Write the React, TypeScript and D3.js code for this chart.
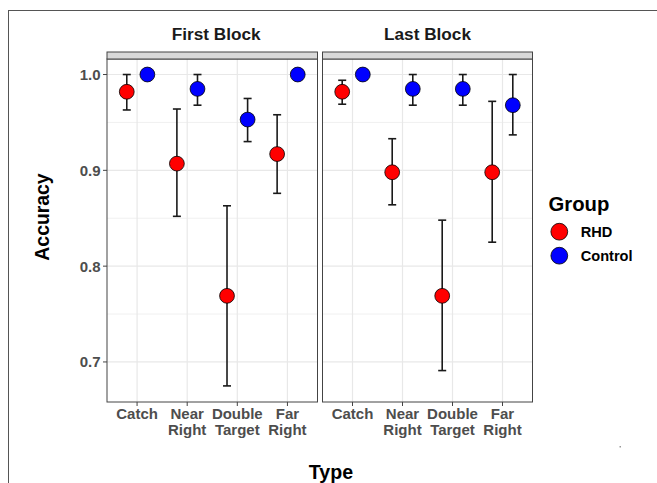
import * as d3 from "d3";

const categories = ["Catch", "Near Right", "Double Target", "Far Right"];
const blocks = ["First Block", "Last Block"];
const groups = ["RHD", "Control"];
const groupColors = ["#ff0000", "#0000ff"];

// mean / lower / upper, per block
const rhdMean = [
  [0.982, 0.907, 0.769, 0.917],
  [0.982, 0.898, 0.769, 0.898],
];
const rhdLow = [
  [0.963, 0.852, 0.675, 0.876],
  [0.969, 0.864, 0.691, 0.825],
];
const rhdHigh = [
  [1.0, 0.964, 0.863, 0.958],
  [0.994, 0.933, 0.848, 0.972],
];
const controlMean = [
  [1.0, 0.985, 0.953, 1.0],
  [1.0, 0.985, 0.985, 0.968],
];
const controlLow = [
  [1.0, 0.968, 0.93, 1.0],
  [1.0, 0.968, 0.968, 0.937],
];
const controlHigh = [
  [1.0, 1.0, 0.975, 1.0],
  [1.0, 1.0, 1.0, 1.0],
];

const yTicks = [0.7, 0.8, 0.9, 1.0];
const yMinor = [0.75, 0.85, 0.95];

const W = 657;
const H = 483;
const panelTop = 59;
const panelBottom = 402;
const stripTop = 52;
const panels = [
  [107, 317.5],
  [322.5, 532.5],
];
const dodge = 10.3;
const font = "'Liberation Sans', Arial, sans-serif";

const y = d3.scaleLinear().domain([0.6582, 1.0162]).range([panelBottom, panelTop]);

export default function App() {
  const series = [
    { mean: rhdMean, low: rhdLow, high: rhdHigh },
    { mean: controlMean, low: controlLow, high: controlHigh },
  ];

  return (
    <svg
      width={W}
      height={H}
      style={{ position: "absolute", left: 0, top: 0, background: "#fff" }}
    >
      <rect x={0} y={0} width={W} height={H} fill="#fff" />
      {/* outer frame from the screenshot */}
      <rect x={8.5} y={10.5} width={W + 10} height={H + 10} fill="none" stroke="#555" strokeWidth={1} />

      {blocks.map((b, bi) => {
        const [x0, x1] = panels[bi];
        const x = d3.scalePoint<string>().domain(categories).range([x0, x1]).padding(0.6);
        return (
          <g key={b}>
            <rect x={x0} y={panelTop} width={x1 - x0} height={panelBottom - panelTop} fill="#fff" />
            {yMinor.map((t) => (
              <line key={"m" + t} x1={x0} x2={x1} y1={y(t)} y2={y(t)} stroke="#f0f0f0" strokeWidth={1} />
            ))}
            {yTicks.map((t) => (
              <line key={"y" + t} x1={x0} x2={x1} y1={y(t)} y2={y(t)} stroke="#e8e8e8" strokeWidth={1.2} />
            ))}
            {categories.map((c) => (
              <line key={"x" + c} x1={x(c)} x2={x(c)} y1={panelTop} y2={panelBottom} stroke="#e8e8e8" strokeWidth={1.2} />
            ))}

            {series.map((s, gi) =>
              categories.map((c, ci) => {
                const cx = (x(c) ?? 0) + (gi === 0 ? -dodge : dodge);
                return (
                  <g key={gi + c} stroke="#1a1a1a" strokeWidth={1.6}>
                    <line x1={cx} x2={cx} y1={y(s.low[bi][ci])} y2={y(s.high[bi][ci])} />
                    <line x1={cx - 4} x2={cx + 4} y1={y(s.low[bi][ci])} y2={y(s.low[bi][ci])} />
                    <line x1={cx - 4} x2={cx + 4} y1={y(s.high[bi][ci])} y2={y(s.high[bi][ci])} />
                  </g>
                );
              })
            )}
            {series.map((s, gi) =>
              categories.map((c, ci) => {
                const cx = (x(c) ?? 0) + (gi === 0 ? -dodge : dodge);
                return (
                  <circle
                    key={"p" + gi + c}
                    cx={cx}
                    cy={y(s.mean[bi][ci])}
                    r={7.4}
                    fill={groupColors[gi]}
                    stroke="#000"
                    strokeWidth={0.8}
                  />
                );
              })
            )}

            <rect x={x0} y={panelTop} width={x1 - x0} height={panelBottom - panelTop} fill="none" stroke="#444" strokeWidth={1} />
            <rect x={x0} y={stripTop} width={x1 - x0} height={panelTop - stripTop} fill="#d9d9d9" stroke="#444" strokeWidth={1} />
            <text
              x={(x0 + x1) / 2 + (bi === 0 ? 4 : 0)}
              y={40}
              textAnchor="middle"
              fontFamily={font}
              fontWeight="bold"
              fontSize={17.2}
              fill="#1a1a1a"
            >
              {b}
            </text>

            {categories.map((c) => {
              const words = c.split(" ");
              return (
                <g key={"t" + c}>
                  <line x1={x(c)} x2={x(c)} y1={panelBottom} y2={panelBottom + 4} stroke="#444" />
                  <text
                    x={x(c)}
                    textAnchor="middle"
                    fontFamily={font}
                    fontWeight="bold"
                    fontSize={15}
                    fill="#4d4d4d"
                  >
                    {words.map((w, wi) => (
                      <tspan key={w} x={x(c)} y={418.5 + wi * 16.7}>
                        {w}
                      </tspan>
                    ))}
                  </text>
                </g>
              );
            })}
          </g>
        );
      })}

      {/* y axis */}
      {yTicks.map((t) => (
        <g key={"ya" + t}>
          <line x1={103} x2={107} y1={y(t)} y2={y(t)} stroke="#444" />
          <text
            x={100.5}
            y={y(t)}
            dy="0.36em"
            textAnchor="end"
            fontFamily={font}
            fontWeight="bold"
            fontSize={15}
            fill="#4d4d4d"
          >
            {d3.format(".1f")(t)}
          </text>
        </g>
      ))}

      <text
        transform={`translate(48.5,217) rotate(-90)`}
        textAnchor="middle"
        fontFamily={font}
        fontWeight="bold"
        fontSize={19.4}
        fill="#000"
      >
        Accuracy
      </text>
      <text x={331} y={478.5} textAnchor="middle" fontFamily={font} fontWeight="bold" fontSize={19.6} fill="#000">
        Type
      </text>

      {/* legend */}
      <text x={548.5} y={211} fontFamily={font} fontWeight="bold" fontSize={20.3} fill="#000">
        Group
      </text>
      {groups.map((g, gi) => (
        <g key={g}>
          <circle cx={559.3} cy={231.7 + gi * 24} r={8.4} fill={groupColors[gi]} stroke="#000" strokeWidth={0.8} />
          <text x={580.7} y={237.3 + gi * 24} fontFamily={font} fontWeight="bold" fontSize={14.6} fill="#000">
            {g}
          </text>
        </g>
      ))}

      <rect x={619.5} y={446} width={1.5} height={1.5} fill="#999" />
    </svg>
  );
}
